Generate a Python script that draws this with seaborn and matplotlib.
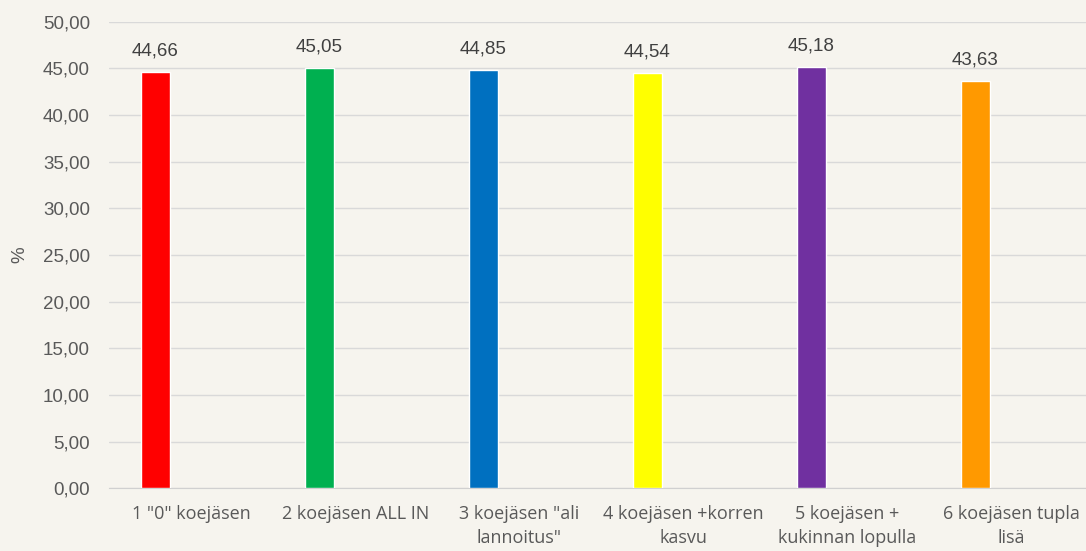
import matplotlib
matplotlib.use("Agg")
import matplotlib.pyplot as plt
import seaborn as sns
import pandas as pd
from matplotlib.ticker import FuncFormatter

# data
categories = ['1 "0" koejäsen', '2 koejäsen ALL IN', '3 koejäsen "ali\nlannoitus"',
              '4 koejäsen +korren\nkasvu', '5 koejäsen +\nkukinnan lopulla', '6 koejäsen tupla\nlisä']
values = [44.66, 45.05, 44.85, 44.54, 45.18, 43.63]
colors = ['#FF0000', '#00B050', '#0070C0', '#FFFF00', '#7030A0', '#FF9900']
yticks = [0, 5, 10, 15, 20, 25, 30, 35, 40, 45, 50]

df = pd.DataFrame({'cat': categories, 'val': values})

sns.set_style("white")
plt.rcParams['font.family'] = ['Liberation Sans', 'DejaVu Sans']

bg = '#F6F4EE'
fig = plt.figure(figsize=(10.86, 5.51), dpi=100, facecolor=bg)
ax = fig.add_axes([0.1008, 0.1138, 0.9061, 0.8468])
ax.set_facecolor(bg)

sns.barplot(data=df, x='cat', y='val', hue='cat', palette=colors, legend=False,
            width=0.177, saturation=1, ax=ax, zorder=3)

# Excel draws the bars offset to the left of the category centre
shift = -0.22
for p in ax.patches:
    p.set_x(p.get_x() + shift)
    ax.annotate(f"{p.get_height():.2f}".replace('.', ','),
                (p.get_x() + p.get_width() / 2, p.get_height()),
                xytext=(0, 9), textcoords='offset points', ha='center', va='bottom',
                fontsize=13.5, color='#404040')

ax.set_xlim(-0.5, 5.5)
ax.set_ylim(0, 50)
ax.set_yticks(yticks)
ax.yaxis.set_major_formatter(FuncFormatter(lambda v, _: f"{v:.2f}".replace('.', ',')))
ax.grid(axis='y', color='#D9D9D9', linewidth=1, zorder=0)
for s in ['top', 'right', 'left']:
    ax.spines[s].set_visible(False)
ax.spines['bottom'].set_color('#D0D0D0')
ax.tick_params(axis='both', length=0, colors='#595959', labelsize=13.5)
ax.tick_params(axis='y', pad=14)
ax.tick_params(axis='x', pad=12)
for lbl in ax.get_xticklabels():
    lbl.set_fontfamily(['Open Sans', 'DejaVu Sans'])
    lbl.set_fontsize(13)
    lbl.set_linespacing(1.45)
ax.set_xlabel('')
ax.set_ylabel('%', fontsize=13.5, color='#595959')
ax.yaxis.set_label_coords(-0.082, 0.5)

fig.savefig('out.png', dpi=100, facecolor=bg)
